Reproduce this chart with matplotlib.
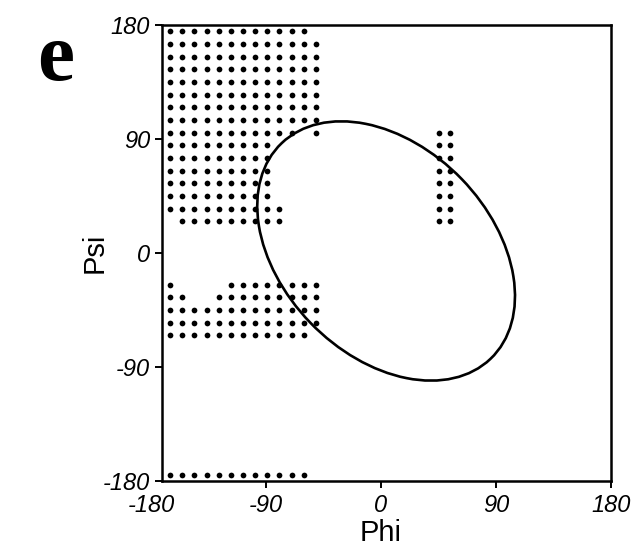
import matplotlib
matplotlib.use("Agg")
import matplotlib.pyplot as plt
from matplotlib.patches import Ellipse
import numpy as np

plt.rcParams["font.family"] = ["Liberation Sans", "DejaVu Sans"]

# phi positions of the grid columns in the left block
LEFT_PHI = [-165, -155.5, -146, -136.5, -127, -117.5, -108, -98.5, -89, -79.5, -70, -60.5, -51]

# psi of each row and which columns are filled ("1" = point)
ROW_PSI = [175, 165, 155, 145, 135, 125, 115, 105, 95, 85, 75, 65, 55, 45, 35, 25,
           -25, -35, -45, -55, -65, -175]
ROW_MASK = [
    "111111111111.",
    "1111111111111",
    "1111111111111",
    "1111111111111",
    "1111111111111",
    "1111111111111",
    "1111111111111",
    "1111111111111",
    "11111111111.1",
    "111111111....",
    "111111111....",
    "111111111....",
    "111111111....",
    "111111111....",
    "1111111111...",
    ".111111111...",
    "1....11111111",
    "11..111111111",
    "1111111111111",
    "1111111111111",
    "111111111111.",
    "111111111111.",
]

# small block right of zero
RIGHT_PHI = [45, 54]
RIGHT_PSI = [95, 85, 75, 65, 55, 45, 35, 25]

# ellipse outline
ELL_CENTER = (4, 1.6)
ELL_WIDTH = 236
ELL_HEIGHT = 164
ELL_ANGLE = -46.2

TICKS = [-180, -90, 0, 90, 180]
Y_AXIS_AT = -171


def main():
    fig = plt.figure(figsize=(6.41, 5.59), dpi=100)
    ax = fig.add_axes([151 / 641, 78 / 559, 460 / 641, 456 / 559])

    px, py = [], []
    for psi, mask in zip(ROW_PSI, ROW_MASK):
        for phi, m in zip(LEFT_PHI, mask):
            if m == "1":
                px.append(phi)
                py.append(psi)
    for psi in RIGHT_PSI:
        for phi in RIGHT_PHI:
            px.append(phi)
            py.append(psi)
    ax.scatter(px, py, s=17, c="black", marker="o", linewidths=0, zorder=2)

    ell = Ellipse(ELL_CENTER, ELL_WIDTH, ELL_HEIGHT, angle=ELL_ANGLE,
                  fill=False, edgecolor="black", linewidth=1.9, zorder=3)
    ax.add_patch(ell)

    # box: y axis pulled in a little from -180
    for side in ["left", "right", "top", "bottom"]:
        ax.spines[side].set_linewidth(1.8)
    ax.spines["left"].set_position(("data", Y_AXIS_AT))
    ax.spines["top"].set_bounds(Y_AXIS_AT, 180)
    ax.spines["bottom"].set_bounds(Y_AXIS_AT, 180)

    ax.set_xlim(-180, 180)
    ax.set_ylim(-180, 180)
    ax.set_xticks(TICKS)
    ax.set_yticks(TICKS)
    ax.set_xticklabels([str(t) for t in TICKS], fontsize=17, style="italic")
    ax.set_yticklabels([str(t) for t in TICKS], fontsize=17, style="italic")
    ax.tick_params(direction="out", length=5, width=1.4, pad=4)
    ax.xaxis.get_major_ticks()[0].tick1line.set_visible(False)

    ax.set_xlabel("Phi", fontsize=21, labelpad=2)
    ax.set_ylabel("Psi", fontsize=21)
    ax.yaxis.set_label_coords(-0.093, 0.5)

    fig.text(37 / 641, 1 - 80 / 559, "e", fontsize=60, fontweight="bold",
             family="Liberation Serif", ha="left", va="baseline")

    fig.savefig("out.png", dpi=100)


if __name__ == "__main__":
    main()
